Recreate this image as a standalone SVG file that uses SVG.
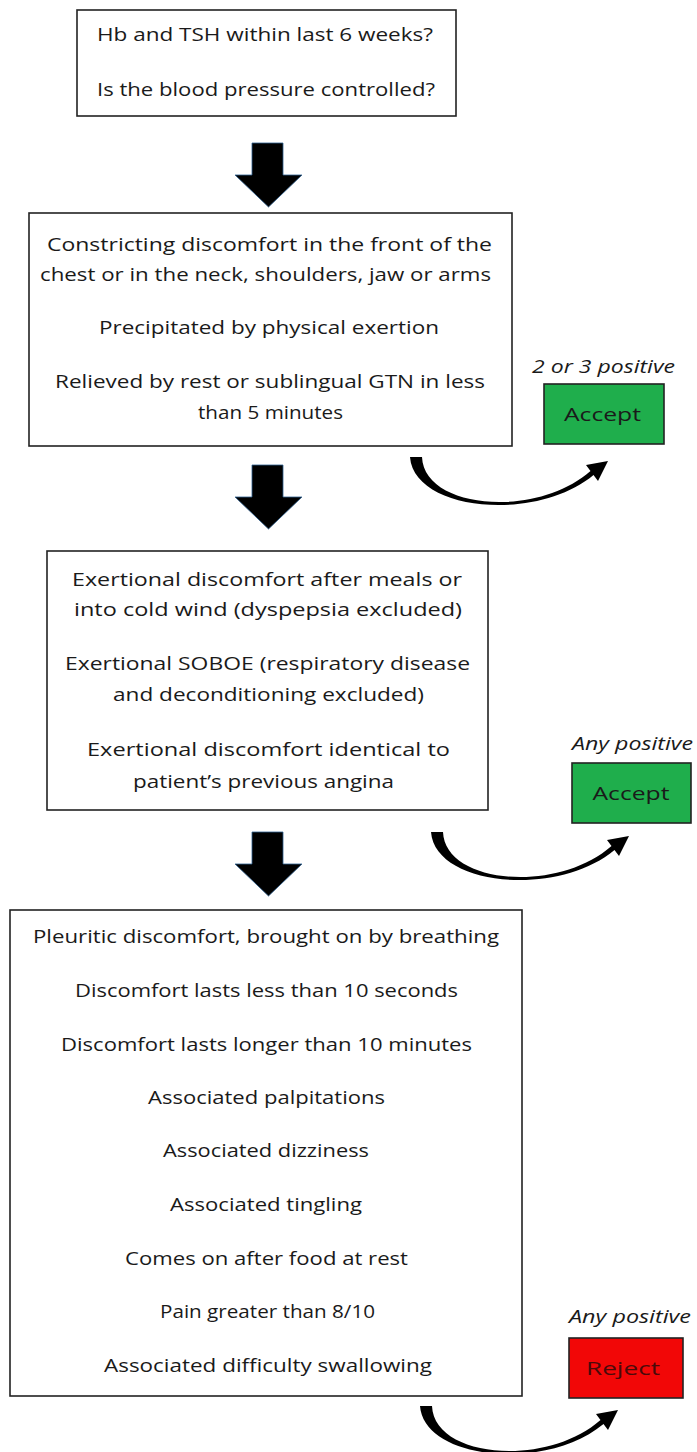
<svg xmlns="http://www.w3.org/2000/svg" width="697" height="1452" viewBox="0 0 697 1452">
<style>
.box{fill:#fff;stroke:#222;stroke-width:1.6}
.t{font-family:"Open Sans","Noto Sans",sans-serif;font-size:18px;fill:#1a1a1a;text-anchor:middle}
.lbl{font-family:"Open Sans","Noto Sans",sans-serif;font-size:18px;font-style:italic;fill:#1a1a1a;text-anchor:middle}
.acc{fill:#1fae4c;stroke:#222;stroke-width:1.6}
.rej{fill:#f20707;stroke:#222;stroke-width:1.6}
.down{fill:#000;stroke:#2f5f8f;stroke-width:0.8}
.curve{fill:#000}
</style>
<defs>
<path id="downArrow" d="M252,0 H283 V32 H302 L268.5,64 L235,32 H252 Z"/>
<path id="curveArrow" d="M-6,0 C-2,54 120,66 177.5,18 L182,24 L192,4 L170,8 L174.5,14 C120,62 8,52 6,0 Z"/>
</defs>
<g id="connectors">
<use href="#downArrow" class="down" transform="translate(0,143)"/>
<use href="#downArrow" class="down" transform="translate(0,465)"/>
<use href="#downArrow" class="down" transform="translate(0,832)"/>
<use href="#curveArrow" class="curve" transform="translate(416,457)"/>
<use href="#curveArrow" class="curve" transform="translate(437,832)"/>
<use href="#curveArrow" class="curve" transform="translate(426,1406)"/>
</g>
<g id="node-checks">
<rect class="box" x="77" y="10" width="379" height="106"/>
<text class="t" x="265" y="41" textLength="336" lengthAdjust="spacingAndGlyphs">Hb and TSH within last 6 weeks?</text>
<text class="t" x="266" y="96" textLength="338" lengthAdjust="spacingAndGlyphs">Is the blood pressure controlled?</text>
</g>
<g id="node-typical">
<rect class="box" x="29" y="213" width="483" height="233"/>
<text class="t" x="269.5" y="251" textLength="445" lengthAdjust="spacingAndGlyphs">Constricting discomfort in the front of the</text>
<text class="t" x="265.5" y="281" textLength="451" lengthAdjust="spacingAndGlyphs">chest or in the neck, shoulders, jaw or arms</text>
<text class="t" x="269" y="334" textLength="340" lengthAdjust="spacingAndGlyphs">Precipitated by physical exertion</text>
<text class="t" x="270" y="388" textLength="430" lengthAdjust="spacingAndGlyphs">Relieved by rest or sublingual GTN in less</text>
<text class="t" x="270.5" y="419" textLength="145" lengthAdjust="spacingAndGlyphs">than 5 minutes</text>
</g>
<g id="node-accept1">
<text class="lbl" x="603.5" y="373" textLength="143" lengthAdjust="spacingAndGlyphs">2 or 3 positive</text>
<rect class="acc" x="544" y="384" width="120" height="60"/>
<text class="t" x="602.5" y="421" textLength="77" lengthAdjust="spacingAndGlyphs">Accept</text>
</g>
<g id="node-atypical">
<rect class="box" x="47" y="551" width="441" height="259"/>
<text class="t" x="267" y="586" textLength="390" lengthAdjust="spacingAndGlyphs">Exertional discomfort after meals or</text>
<text class="t" x="268" y="616" textLength="388" lengthAdjust="spacingAndGlyphs">into cold wind (dyspepsia excluded)</text>
<text class="t" x="267.5" y="670" textLength="405" lengthAdjust="spacingAndGlyphs">Exertional SOBOE (respiratory disease</text>
<text class="t" x="268.5" y="701" textLength="311" lengthAdjust="spacingAndGlyphs">and deconditioning excluded)</text>
<text class="t" x="268.5" y="756" textLength="363" lengthAdjust="spacingAndGlyphs">Exertional discomfort identical to</text>
<text class="t" x="263.5" y="788" textLength="261" lengthAdjust="spacingAndGlyphs">patient’s previous angina</text>
</g>
<g id="node-accept2">
<text class="lbl" x="632.5" y="750" textLength="121" lengthAdjust="spacingAndGlyphs">Any positive</text>
<rect class="acc" x="572" y="763" width="119" height="60"/>
<text class="t" x="631" y="800" textLength="77" lengthAdjust="spacingAndGlyphs">Accept</text>
</g>
<g id="node-exclusions">
<rect class="box" x="10" y="910" width="512" height="486"/>
<text class="t" x="266" y="943" textLength="466" lengthAdjust="spacingAndGlyphs">Pleuritic discomfort, brought on by breathing</text>
<text class="t" x="266.5" y="997" textLength="383" lengthAdjust="spacingAndGlyphs">Discomfort lasts less than 10 seconds</text>
<text class="t" x="266.5" y="1051" textLength="411" lengthAdjust="spacingAndGlyphs">Discomfort lasts longer than 10 minutes</text>
<text class="t" x="266.5" y="1104" textLength="237" lengthAdjust="spacingAndGlyphs">Associated palpitations</text>
<text class="t" x="266" y="1157" textLength="206" lengthAdjust="spacingAndGlyphs">Associated dizziness</text>
<text class="t" x="266" y="1211" textLength="192" lengthAdjust="spacingAndGlyphs">Associated tingling</text>
<text class="t" x="266.5" y="1265" textLength="283" lengthAdjust="spacingAndGlyphs">Comes on after food at rest</text>
<text class="t" x="267.5" y="1318" textLength="215" lengthAdjust="spacingAndGlyphs">Pain greater than 8/10</text>
<text class="t" x="268" y="1372" textLength="328" lengthAdjust="spacingAndGlyphs">Associated difficulty swallowing</text>
</g>
<g id="node-reject">
<text class="lbl" x="630" y="1323" textLength="122" lengthAdjust="spacingAndGlyphs">Any positive</text>
<rect class="rej" x="569" y="1338" width="114" height="60"/>
<text class="t" x="623" y="1375" textLength="74" lengthAdjust="spacingAndGlyphs" style="fill:#4a0a0a">Reject</text>
</g>
</svg>
